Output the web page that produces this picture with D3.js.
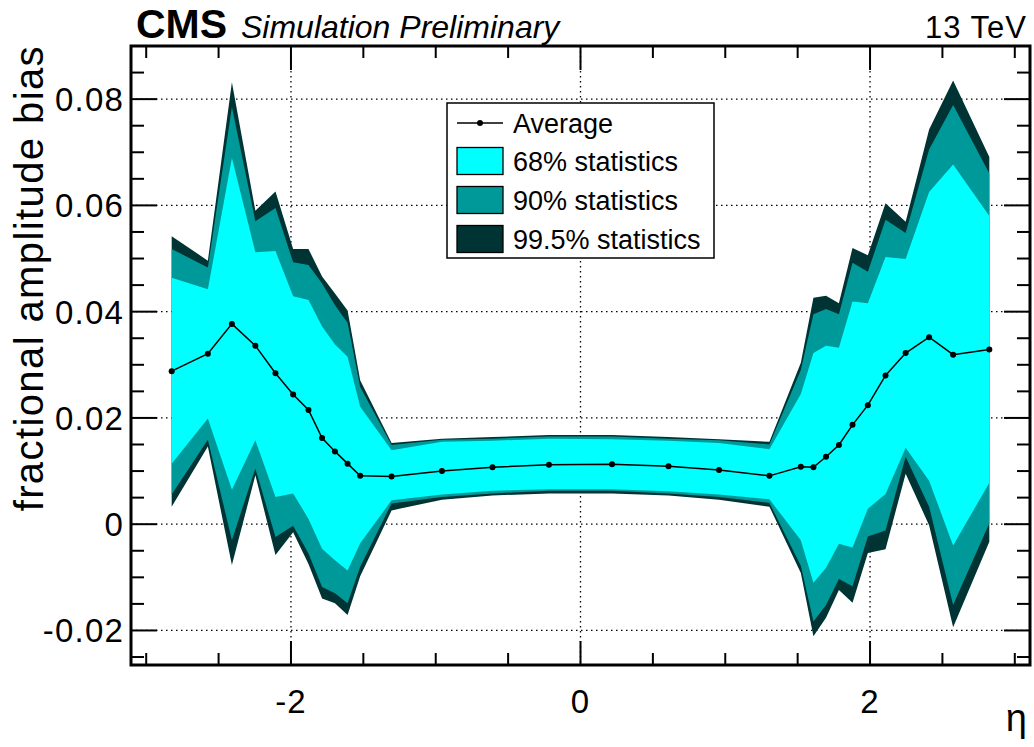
<!DOCTYPE html>
<html>
<head>
<meta charset="utf-8">
<script src="https://cdn.jsdelivr.net/npm/d3@7"></script>
<style>
  body { margin: 0; background: #fff; }
  svg { display: block; font-family: "Liberation Sans", Arial, sans-serif; }
</style>
</head>
<body>
<div class="chart"></div>
<script>
// eta positions of the points
const eta = [-2.824, -2.574, -2.408, -2.246, -2.107, -1.985, -1.879, -1.785, -1.696, -1.609, -1.522, -1.305,
             -0.957, -0.608, -0.218, 0.218, 0.608, 0.957,
             1.305, 1.522, 1.609, 1.696, 1.785, 1.879, 1.985, 2.107, 2.246, 2.408, 2.574, 2.824];

// average bias
const average = [0.0288, 0.0321, 0.0377, 0.0336, 0.0284, 0.0244, 0.0215, 0.0162, 0.0137, 0.0114, 0.0091, 0.0090,
                 0.0100, 0.0107, 0.0112, 0.0113, 0.0109, 0.0102,
                 0.0091, 0.0108, 0.0107, 0.0127, 0.0149, 0.0187, 0.0224, 0.0280, 0.0322, 0.0352, 0.0319, 0.0329];

// 68% band
const up68 = [0.0464, 0.0442, 0.0689, 0.0512, 0.0514, 0.0429, 0.0422, 0.0372, 0.0338, 0.0315, 0.0221, 0.0139,
              0.0155, 0.0157, 0.0161, 0.0160, 0.0157, 0.0153,
              0.0141, 0.0245, 0.0322, 0.0336, 0.0332, 0.0419, 0.0416, 0.0503, 0.0499, 0.0625, 0.0677, 0.0580];
const lo68 = [0.0114, 0.0199, 0.0065, 0.0158, 0.0051, 0.0058, 0.0010, -0.0046, -0.0068, -0.0087, -0.0036, 0.0045,
              0.0056, 0.0063, 0.0066, 0.0066, 0.0062, 0.0056,
              0.0047, -0.0030, -0.0110, -0.0082, -0.0037, -0.0044, 0.0029, 0.0057, 0.0144, 0.0082, -0.0040, 0.0078];

// 90% band
const up90 = [0.0518, 0.0483, 0.0785, 0.0570, 0.0595, 0.0493, 0.0488, 0.0453, 0.0412, 0.0379, 0.0258, 0.0149,
              0.0159, 0.0161, 0.0165, 0.0165, 0.0161, 0.0158,
              0.0150, 0.0290, 0.0395, 0.0405, 0.0395, 0.0492, 0.0475, 0.0573, 0.0548, 0.0705, 0.0789, 0.0660];
const lo90 = [0.0056, 0.0159, -0.0030, 0.0105, -0.0024, -0.0003, -0.0055, -0.0118, -0.0130, -0.0149, -0.0080, 0.0039,
              0.0051, 0.0058, 0.0063, 0.0063, 0.0058, 0.0051,
              0.0040, -0.0078, -0.0183, -0.0152, -0.0103, -0.0117, -0.0023, -0.0012, 0.0127, 0.0033, -0.0152, 0.0002];

// 99.5% band
const up995 = [0.0542, 0.0496, 0.0832, 0.0590, 0.0626, 0.0518, 0.0518, 0.0466, 0.0434, 0.0402, 0.0271, 0.0153,
               0.0161, 0.0164, 0.0168, 0.0168, 0.0164, 0.0160,
               0.0155, 0.0304, 0.0426, 0.0430, 0.0416, 0.0520, 0.0506, 0.0604, 0.0569, 0.0743, 0.0835, 0.0691];
const lo995 = [0.0033, 0.0146, -0.0077, 0.0092, -0.0058, -0.0015, -0.0075, -0.0140, -0.0149, -0.0171, -0.0098, 0.0026,
               0.0046, 0.0054, 0.0058, 0.0058, 0.0054, 0.0046,
               0.0033, -0.0092, -0.0211, -0.0176, -0.0124, -0.0148, -0.0054, -0.0047, 0.0095, -0.0002, -0.0194, -0.0033];

const yTicks = [-0.02, 0, 0.02, 0.04, 0.06, 0.08];
const xTicks = [-2, 0, 2];
const legendLabels = ['Average', '68% statistics', '90% statistics', '99.5% statistics'];
const bandColors = ['#00ffff', '#009999', '#003333'];

// Plot constants
const W = 1034, H = 747;
const margin = {top: 46, right: 4, bottom: 82, left: 131},
    width = W - margin.left - margin.right,
    height = H - margin.top - margin.bottom;

const svg = d3.select('.chart')
    .append('svg')
        .attr('width', W)
        .attr('height', H);

const g = svg.append('g')
    .attr('transform', `translate(${margin.left},${margin.top})`);

// Scales
const x = d3.scaleLinear().domain([-3.105, 3.105]).range([0, width]);
const y = d3.scaleLinear().domain([-0.0265, 0.09]).range([height, 0]);

// Grid (dotted, below the bands)
g.append('g')
    .selectAll('line')
    .data(yTicks)
    .enter().append('line')
        .attr('x1', 0).attr('x2', width)
        .attr('y1', d => y(d)).attr('y2', d => y(d))
        .attr('stroke', '#000').attr('stroke-width', 1.3)
        .attr('stroke-dasharray', '1.5,3.5');
g.append('g')
    .selectAll('line')
    .data(xTicks)
    .enter().append('line')
        .attr('x1', d => x(d)).attr('x2', d => x(d))
        .attr('y1', 0).attr('y2', height)
        .attr('stroke', '#000').attr('stroke-width', 1.3)
        .attr('stroke-dasharray', '1.5,3.5');

// Bands
const pts = eta.map((e, i) => i);
const band = (lo, hi) => d3.area()
    .x(i => x(eta[i]))
    .y0(i => y(lo[i]))
    .y1(i => y(hi[i]));

g.append('path').datum(pts).attr('d', band(lo995, up995)).attr('fill', bandColors[2]);
g.append('path').datum(pts).attr('d', band(lo90, up90)).attr('fill', bandColors[1]);
g.append('path').datum(pts).attr('d', band(lo68, up68)).attr('fill', bandColors[0]);

// Average line
g.append('path').datum(pts)
    .attr('d', d3.line().x(i => x(eta[i])).y(i => y(average[i])))
    .attr('fill', 'none').attr('stroke', '#000').attr('stroke-width', 1.5);
g.selectAll('.avgdot')
    .data(pts)
    .enter().append('circle')
        .attr('class', 'avgdot')
        .attr('cx', i => x(eta[i])).attr('cy', i => y(average[i]))
        .attr('r', 3).attr('fill', '#000');

// Axes ticks (ROOT style, inward, mirrored)
const yMinor = d3.range(-0.025, 0.0901, 0.005).map(v => Math.round(v * 1000) / 1000);
const xMinor = d3.range(-3, 3.01, 0.5);
const isMajorY = v => Math.abs(Math.round(v / 0.02) * 0.02 - v) < 1e-6;
const isMajorX = v => xTicks.includes(v);

const ticks = g.append('g').attr('stroke', '#000').attr('stroke-width', 2);
yMinor.forEach(v => {
    const len = isMajorY(v) ? 26 : 13;
    ticks.append('line').attr('x1', 0).attr('x2', len).attr('y1', y(v)).attr('y2', y(v));
    ticks.append('line').attr('x1', width).attr('x2', width - len).attr('y1', y(v)).attr('y2', y(v));
});
xMinor.forEach(v => {
    const len = isMajorX(v) ? 24 : 12;
    ticks.append('line').attr('x1', x(v)).attr('x2', x(v)).attr('y1', height).attr('y2', height - len);
    ticks.append('line').attr('x1', x(v)).attr('x2', x(v)).attr('y1', 0).attr('y2', len);
});

// Frame
g.append('rect')
    .attr('width', width).attr('height', height)
    .attr('fill', 'none').attr('stroke', '#000').attr('stroke-width', 3);

// Tick labels
g.selectAll('.ylab')
    .data(yTicks)
    .enter().append('text')
        .attr('class', 'ylab')
        .attr('x', -7).attr('y', d => y(d))
        .attr('dy', '0.36em')
        .attr('text-anchor', 'end')
        .style('font-size', '33px')
        .style('letter-spacing', '1.2px')
        .text(d => d === 0 ? '0' : d3.format('.2f')(d).replace('−', '-'));
g.selectAll('.xlab')
    .data(xTicks)
    .enter().append('text')
        .attr('class', 'xlab')
        .attr('x', d => x(d)).attr('y', height + 48)
        .attr('text-anchor', 'middle')
        .style('font-size', '33px')
        .style('letter-spacing', '1px')
        .text(d => d3.format('d')(d).replace('−', '-'));

// Axis titles
svg.append('text')
    .attr('transform', `translate(43, 45) rotate(-90)`)
    .attr('text-anchor', 'end')
    .style('font-size', '40px')
    .style('letter-spacing', '1.4px')
    .text('fractional amplitude bias');
svg.append('text')
    .attr('x', 1027).attr('y', 731)
    .attr('text-anchor', 'end')
    .style('font-size', '38px')
    .text('η');

// Header
svg.append('text')
    .attr('x', 136).attr('y', 38)
    .style('font-size', '41px').style('font-weight', 'bold')
    .text('CMS');
svg.append('text')
    .attr('x', 241).attr('y', 38)
    .style('font-size', '32px').style('font-style', 'italic')
    .text('Simulation Preliminary');
svg.append('text')
    .attr('x', 1027).attr('y', 38)
    .attr('text-anchor', 'end')
    .style('font-size', '31px')
    .style('letter-spacing', '1px')
    .text('13 TeV');

// Legend
const leg = svg.append('g').attr('transform', 'translate(447,103)');
leg.append('rect')
    .attr('width', 267).attr('height', 155)
    .attr('fill', '#fff').attr('stroke', '#000').attr('stroke-width', 1.5);
const rowY = [20, 58, 97, 136];
leg.append('line')
    .attr('x1', 10).attr('x2', 56).attr('y1', rowY[0]).attr('y2', rowY[0])
    .attr('stroke', '#000').attr('stroke-width', 1.5);
leg.append('circle').attr('cx', 33).attr('cy', rowY[0]).attr('r', 3).attr('fill', '#000');
bandColors.forEach((c, i) => {
    leg.append('rect')
        .attr('x', 10).attr('y', rowY[i + 1] - 13.5)
        .attr('width', 46).attr('height', 27)
        .attr('fill', c).attr('stroke', '#000').attr('stroke-width', 1.3);
});
leg.selectAll('.ltext')
    .data(legendLabels)
    .enter().append('text')
        .attr('class', 'ltext')
        .attr('x', 66).attr('y', (d, i) => rowY[i])
        .attr('dy', '0.36em')
        .style('font-size', '27px')
        .text(d => d);
</script>
</body>
</html>
